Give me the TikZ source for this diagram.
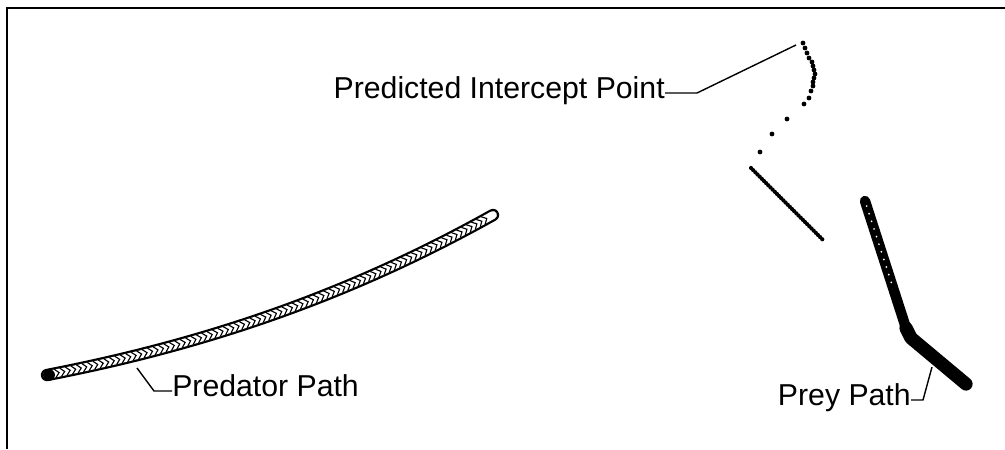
\documentclass[tikz,border=0pt]{standalone}
\usepackage{fontspec}
\setmainfont{Liberation Sans}
\usetikzlibrary{calc, decorations.markings}

\begin{document}
\begin{tikzpicture}[x=0.025cm, y=-0.025cm,
  lbl/.style={font=\fontsize{21.5}{24}\selectfont, inner sep=0pt, text height=0.72em, text depth=0pt},
  leader/.style={line width=1pt},
  dot/.style={fill=black, draw=none},
  chevrons/.style={decorate, decoration={markings,
    mark=between positions 0.01 and 0.99 step 4pt with {\draw[line width=0.8pt] (-1.5pt,3pt) -- (1.4pt,0pt) -- (-1.5pt,-3pt);}}}]
  \useasboundingbox (0,0) rectangle (1005,449);
  % frame, cut off at right and bottom
  \draw[line width=1.4pt] (1005,8) -- (7,8) -- (7,449);
  % predator path: tube of chevron markers
  \draw[line width=8.8pt, line cap=round] (47,375) .. controls (197,346) and (343,299) .. (493,215);
  \draw[white, line width=5.6pt, line cap=round] (47,375) .. controls (197,346) and (343,299) .. (493,215);
  \path[chevrons] (47,375) .. controls (197,346) and (343,299) .. (493,215);
  \fill (49,375) circle (4.2pt);
  % prey path: dense markers, almost solid
  \draw[line width=7.4pt, line cap=round, line join=round] (865,201) -- (906,328);
  \draw[line width=9.4pt, line cap=round, line join=round] (906,328) -- (911,338) -- (966,384);
  \foreach \t in {0.04,0.1,...,0.7}
    \fill[white] ($(865,201)!\t!(906,328)$) circle (0.7pt);
  % predicted intercept points
  \foreach \p in {(803,43),(805,48),(807,53),(809,58),(812,62),(813,66),(814,70),(815,74),(814,78),
                  (813,82),(813,86),(811,91),(809,98),(804,104),(787,119),(772,134),(760,152)}
    \fill[dot] \p circle (1.7pt);
  \foreach \t in {0,0.03,...,1.0}
    \fill[dot] ($(751,168)!\t!(823,240)$) circle (1.5pt);
  % labels and their leaders
  \coordinate (icpt)     at (796,45);
  \coordinate (predtip)  at (137,368);
  \coordinate (preytip)  at (932,367);
  \node[lbl, anchor=east] (icptlbl) at (665,93)  {Predicted Intercept Point};
  \node[lbl, anchor=west] (predlbl) at (172,391) {Predator Path};
  \node[lbl, anchor=east] (preylbl) at (911,400) {Prey Path};
  \draw[leader] (icptlbl.east) -- ++(32,0) -- (icpt);
  \draw[leader] (predlbl.west) -- ++(-18,0) -- (predtip);
  \draw[leader] (preylbl.east) -- ++(12,0) -- (preytip);
\end{tikzpicture}
\end{document}
